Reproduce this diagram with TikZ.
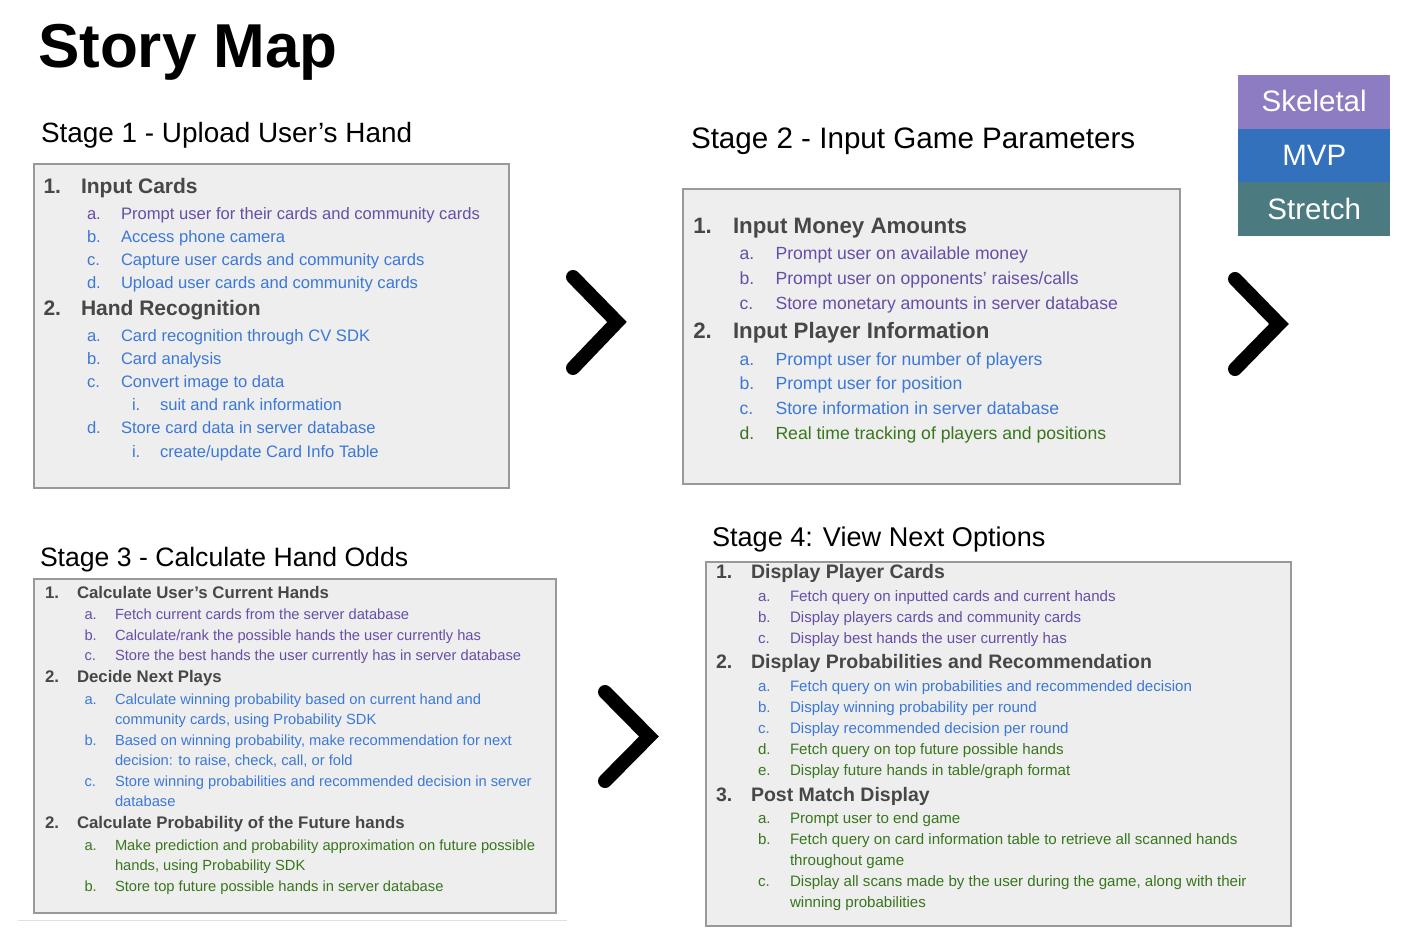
\documentclass[tikz,border=0pt]{standalone}
\usepackage{fontspec}
\setmainfont{Liberation Sans}
\definecolor{hgray}{HTML}{474747}
\definecolor{pur}{HTML}{674EA7}
\definecolor{blu}{HTML}{3C78D8}
\definecolor{grn}{HTML}{38761D}
\definecolor{boxfill}{HTML}{EEEEEE}
\definecolor{boxline}{HTML}{999999}
\definecolor{legA}{HTML}{8E7CC3}
\definecolor{legB}{HTML}{3471BC}
\definecolor{legC}{HTML}{4B7A80}
\newcommand{\fs}[1]{\fontsize{#1}{#1}\selectfont}
\newcommand{\lineitem}[7]{%
  \node[#5, anchor=base west] (#1n) at (#2,#4) {#6};
  \node[#5, anchor=base west] (#1t) at (#3,#4) {#7};}
\tikzset{
  txt/.style={inner sep=0pt, outer sep=0pt},
  box/.style={draw=boxline, fill=boxfill, line width=1.5pt, anchor=north west, inner sep=0pt},
  stagehead/.style={txt, text=black, anchor=base west},
  hA/.style={txt, font=\fs{21}\bfseries, text=hgray},
  sA/.style={txt, font=\fs{16.6}},
  hB/.style={txt, font=\fs{22.3}\bfseries, text=hgray},
  sB/.style={txt, font=\fs{17.6}},
  hC/.style={txt, font=\fs{16.8}\bfseries, text=hgray},
  sC/.style={txt, font=\fs{14.7}},
  hD/.style={txt, font=\fs{19.5}\bfseries, text=hgray},
  sD/.style={txt, font=\fs{15.1}},
  chev/.style={line width=14pt, line cap=round, line join=miter},
  leg/.style={anchor=north west, minimum width=152, minimum height=53.5, inner sep=0pt, text=white, font=\fs{29.5}},
}
\begin{document}
\begin{tikzpicture}[x=1pt,y=-1pt]
\useasboundingbox (0,0) rectangle (1410,942);
\fill[white] (0,0) rectangle (1410,942);

% title
\node[txt, font=\fs{62}\bfseries, anchor=base west] (title) at (38,67) {Story Map};

% stage headings
\node[stagehead, font=\fs{27.9}] (st1) at (41,142) {Stage 1 - Upload User’s Hand};
\node[stagehead, font=\fs{29.6}] (st2) at (691,148) {Stage 2 - Input Game Parameters};
\node[stagehead, font=\fs{26.6}] (st3) at (40,566) {Stage 3 - Calculate Hand Odds};
\node[stagehead, font=\fs{27.1}] (st4) at (712,546) {Stage 4: View Next Options};

% boxes
\node[box, minimum width=475, minimum height=324] (box1) at (33,163) {};
\node[box, minimum width=497, minimum height=295] (box2) at (682,188) {};
\node[box, minimum width=522, minimum height=334] (box3) at (33,578) {};
\node[box, minimum width=585, minimum height=364] (box4) at (705,561) {};

% box 1
\lineitem{a1}{43.5}{81}{193.3}{hA}{1.}{Input Cards}
\lineitem{a1a}{87}{121}{219}{sA,text=pur}{a.}{Prompt user for their cards and community cards}
\lineitem{a1b}{87}{121}{242}{sA,text=blu}{b.}{Access phone camera}
\lineitem{a1c}{87}{121}{265.3}{sA,text=blu}{c.}{Capture user cards and community cards}
\lineitem{a1d}{87}{121}{288.3}{sA,text=blu}{d.}{Upload user cards and community cards}
\lineitem{a2}{43.5}{81}{315}{hA}{2.}{Hand Recognition}
\lineitem{a2a}{87}{121}{341}{sA,text=blu}{a.}{Card recognition through CV SDK}
\lineitem{a2b}{87}{121}{364}{sA,text=blu}{b.}{Card analysis}
\lineitem{a2c}{87}{121}{387.3}{sA,text=blu}{c.}{Convert image to data}
\lineitem{a2ci}{132}{160}{410.3}{sA,text=blu}{i.}{suit and rank information}
\lineitem{a2d}{87}{121}{433.7}{sA,text=blu}{d.}{Store card data in server database}
\lineitem{a2di}{132}{160}{457}{sA,text=blu}{i.}{create/update Card Info Table}

% box 2
\lineitem{b1}{693.3}{733}{233.3}{hB}{1.}{Input Money Amounts}
\lineitem{b1a}{739.5}{775.5}{259}{sB,text=pur}{a.}{Prompt user on available money}
\lineitem{b1b}{739.5}{775.5}{284.3}{sB,text=pur}{b.}{Prompt user on opponents’ raises/calls}
\lineitem{b1c}{739.5}{775.5}{309}{sB,text=pur}{c.}{Store monetary amounts in server database}
\lineitem{b2}{693.3}{733}{338.3}{hB}{2.}{Input Player Information}
\lineitem{b2a}{739.5}{775.5}{365}{sB,text=blu}{a.}{Prompt user for number of players}
\lineitem{b2b}{739.5}{775.5}{389.3}{sB,text=blu}{b.}{Prompt user for position}
\lineitem{b2c}{739.5}{775.5}{414.3}{sB,text=blu}{c.}{Store information in server database}
\lineitem{b2d}{739.5}{775.5}{439.3}{sB,text=grn}{d.}{Real time tracking of players and positions}

% box 3
\lineitem{c1}{45}{77}{598.5}{hC}{1.}{Calculate User’s Current Hands}
\lineitem{c1a}{84.5}{115}{619}{sC,text=pur}{a.}{Fetch current cards from the server database}
\lineitem{c1b}{84.5}{115}{640}{sC,text=pur}{b.}{Calculate/rank the possible hands the user currently has}
\lineitem{c1c}{84.5}{115}{660}{sC,text=pur}{c.}{Store the best hands the user currently has in server database}
\lineitem{c2}{45}{77}{682.5}{hC}{2.}{Decide Next Plays}
\lineitem{c2a}{84.5}{115}{704}{sC,text=blu}{a.}{Calculate winning probability based on current hand and}
\node[sC,text=blu,anchor=base west] (c2ax) at (115,724) {community cards, using Probability SDK};
\lineitem{c2b}{84.5}{115}{745}{sC,text=blu}{b.}{Based on winning probability, make recommendation for next}
\node[sC,text=blu,anchor=base west] (c2bx) at (115,765) {decision: to raise, check, call, or fold};
\lineitem{c2c}{84.5}{115}{786}{sC,text=blu}{c.}{Store winning probabilities and recommended decision in server}
\node[sC,text=blu,anchor=base west] (c2cx) at (115,806) {database};
\lineitem{c3}{45}{77}{828.5}{hC}{2.}{Calculate Probability of the Future hands}
\lineitem{c3a}{84.5}{115}{850}{sC,text=grn}{a.}{Make prediction and probability approximation on future possible}
\node[sC,text=grn,anchor=base west] (c3ax) at (115,870) {hands, using Probability SDK};
\lineitem{c3b}{84.5}{115}{891}{sC,text=grn}{b.}{Store top future possible hands in server database}

% box 4
\lineitem{d1}{716}{751}{578.5}{hD}{1.}{Display Player Cards}
\lineitem{d1a}{758}{790}{601}{sD,text=pur}{a.}{Fetch query on inputted cards and current hands}
\lineitem{d1b}{758}{790}{622}{sD,text=pur}{b.}{Display players cards and community cards}
\lineitem{d1c}{758}{790}{643}{sD,text=pur}{c.}{Display best hands the user currently has}
\lineitem{d2}{716}{751}{668.5}{hD}{2.}{Display Probabilities and Recommendation}
\lineitem{d2a}{758}{790}{691}{sD,text=blu}{a.}{Fetch query on win probabilities and recommended decision}
\lineitem{d2b}{758}{790}{712}{sD,text=blu}{b.}{Display winning probability per round}
\lineitem{d2c}{758}{790}{733}{sD,text=blu}{c.}{Display recommended decision per round}
\lineitem{d2d}{758}{790}{754}{sD,text=grn}{d.}{Fetch query on top future possible hands}
\lineitem{d2e}{758}{790}{775}{sD,text=grn}{e.}{Display future hands in table/graph format}
\lineitem{d3}{716}{751}{801.5}{hD}{3.}{Post Match Display}
\lineitem{d3a}{758}{790}{823}{sD,text=grn}{a.}{Prompt user to end game}
\lineitem{d3b}{758}{790}{844}{sD,text=grn}{b.}{Fetch query on card information table to retrieve all scanned hands}
\node[sD,text=grn,anchor=base west] (d3bx) at (790,865) {throughout game};
\lineitem{d3c}{758}{790}{886}{sD,text=grn}{c.}{Display all scans made by the user during the game, along with their}
\node[sD,text=grn,anchor=base west] (d3cx) at (790,907) {winning probabilities};

% legend
\node[leg, fill=legA] (legS) at (1238,75) {\raisebox{1.5pt}{Skeletal}};
\node[leg, fill=legB] (legM) at (1238,128.5) {MVP};
\node[leg, fill=legC] (legT) at (1238,182) {Stretch};

% chevrons
\coordinate (k1a) at (573,277); \coordinate (k1b) at (617,322); \coordinate (k1c) at (573,368);
\coordinate (k2a) at (1235,279); \coordinate (k2b) at (1279,324); \coordinate (k2c) at (1235,369);
\coordinate (k3a) at (605,692); \coordinate (k3b) at (649,736.5); \coordinate (k3c) at (605,781);
\draw[chev] (k1a) -- (k1b) -- (k1c);
\draw[chev] (k2a) -- (k2b) -- (k2c);
\draw[chev] (k3a) -- (k3b) -- (k3c);

% thin separator line
\coordinate (sepL) at (18,920.5); \coordinate (sepR) at (567,920.5);
\draw[draw=black!12, line width=1.5pt] (sepL) -- (sepR);
\end{tikzpicture}
\end{document}
